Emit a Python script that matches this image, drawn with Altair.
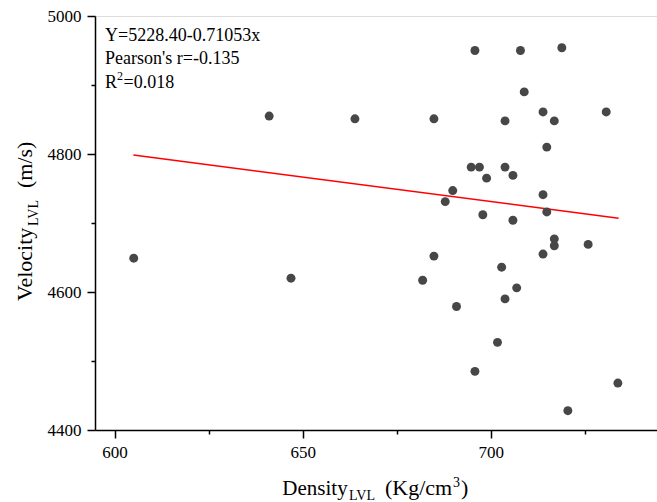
import altair as alt
import pandas as pd

# ---- data ----
density = [695.8, 707.9, 718.9, 708.9, 641.1, 663.9, 684.9, 703.8, 713.9, 716.9,
           730.7, 714.9, 694.8, 697.0, 703.8, 698.9, 705.9, 689.9, 687.9, 713.9,
           714.9, 697.9, 705.9, 716.9, 716.9, 725.9, 713.9, 684.9, 702.9, 681.9,
           706.9, 703.8, 690.9, 701.8, 695.8, 733.8, 720.5, 605.1, 646.9]
velocity = [4950, 4950, 4954, 4890, 4855, 4851, 4851, 4848, 4861, 4848,
            4861, 4810, 4781, 4781, 4781, 4765, 4769, 4747, 4731, 4741,
            4716, 4712, 4704, 4677, 4667, 4669, 4655, 4652, 4636, 4617,
            4606, 4590, 4579, 4527, 4485, 4468, 4428, 4649, 4620]
fit_x = [605.0, 734.0]
fit_y = [4798.5, 4706.9]
x_ticks = [600, 625, 650, 675, 700, 725]
y_ticks = [4400, 4500, 4600, 4700, 4800, 4900, 5000]
annotation = ["Y=5228.40-0.71053x", "Pearson's r=-0.135"]
r2_parts = ["R", "2", "=0.018"]

FONT = "Liberation Serif"
W, H = 562, 414

pts = pd.DataFrame({"density": density, "velocity": velocity})
fit = pd.DataFrame({"density": fit_x, "velocity": fit_y})

xscale = alt.Scale(domain=[594.8, 744.2], nice=False, zero=False)
yscale = alt.Scale(domain=[4400, 5000], nice=False, zero=False)

xaxis = alt.Axis(
    values=x_ticks, title=None, format="d", grid=False,
    labelExpr="datum.value % 50 === 0 ? datum.label : ''",
    tickSize={"condition": {"test": "datum.value % 50 === 0", "value": 8}, "value": 4},
    labelPadding=6, labelFlush=False, labelFont=FONT, labelFontSize=17,
    labelColor="black", domainColor="black", tickColor="black",
    domainWidth=1.5, tickWidth=1.5,
)
yaxis = alt.Axis(
    values=y_ticks, title=None, format="d", grid=False,
    labelExpr="datum.value % 200 === 0 ? datum.label : ''",
    tickSize={"condition": {"test": "datum.value % 200 === 0", "value": 8}, "value": 4},
    labelPadding=6, labelFlush=False, labelFont=FONT, labelFontSize=17,
    labelColor="black", domainColor="black", tickColor="black",
    domainWidth=1.5, tickWidth=1.5,
)

points = alt.Chart(pts).mark_circle(size=80, color="#474747", opacity=1).encode(
    x=alt.X("density:Q", scale=xscale, axis=xaxis),
    y=alt.Y("velocity:Q", scale=yscale, axis=yaxis),
)

line = alt.Chart(fit).mark_line(color="#ff0000", strokeWidth=1.5).encode(
    x=alt.X("density:Q", scale=xscale),
    y=alt.Y("velocity:Q", scale=yscale),
)

one = pd.DataFrame({"k": [0]})


def label(text, x, y, size, angle=0):
    return alt.Chart(one).mark_text(
        align="left", baseline="alphabetic", font=FONT, fontSize=size,
        angle=angle, color="black",
    ).encode(x=alt.value(x), y=alt.value(y), text=alt.value(text))


annot = alt.Chart(one).mark_text(
    align="left", baseline="alphabetic", font=FONT, fontSize=18,
    lineHeight=23.5, color="black",
).encode(x=alt.value(10), y=alt.value(24.7), text=alt.value(annotation))

texts = [
    label(r2_parts[0], 10, 72, 18),
    label(r2_parts[1], 22, 64, 12),
    label(r2_parts[2], 28.5, 72, 18),
    label("Density", 187.3, 479, 21),
    label("LVL", 254, 484, 14),
    label("(Kg/cm", 290, 479, 22),
    label("3", 358, 471, 14),
    label(")", 366, 479, 22),
    label("Velocity", -63, 285, 22, 270),
    label("LVL", -57, 210, 14, 270),
    label("(m/s)", -63, 172, 22, 270),
]

chart = alt.layer(line, points, annot, *texts).properties(
    width=W, height=H,
    padding={"left": 95, "top": 16, "right": 0, "bottom": 72},
    autosize=alt.AutoSizeParams(type="none"),
).configure_view(stroke=None).configure(background="white")

chart.save("out.html", embed_options={"renderer": "svg", "actions": False})
